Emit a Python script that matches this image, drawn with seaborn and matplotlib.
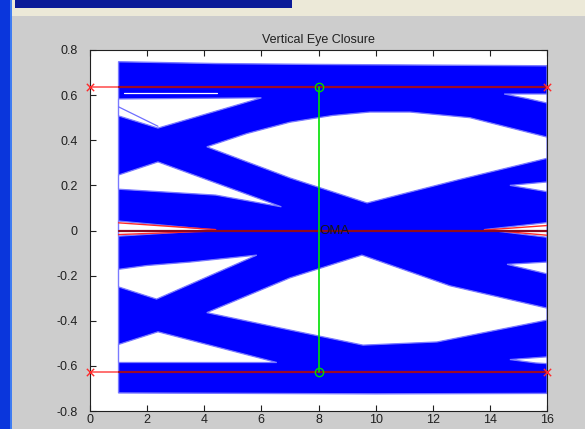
import matplotlib
matplotlib.use("Agg")
import numpy as np
import pandas as pd
import matplotlib.pyplot as plt
import seaborn as sns
from matplotlib.patches import Rectangle

# ---------------- data ----------------
x_ticks = [0, 2, 4, 6, 8, 10, 12, 14, 16]
y_ticks = [-0.8, -0.6, -0.4, -0.2, 0, 0.2, 0.4, 0.6, 0.8]
y_tick_labels = ["-0.8", "-0.6", "-0.4", "-0.2", "0", "0.2", "0.4", "0.6", "0.8"]
title = "Vertical Eye Closure"

# outer envelope of all eye traces (top edge left->right, bottom edge right->left)
env_x = [1, 4.4, 8, 16, 16, 10, 1]
env_y = [0.748, 0.740, 0.736, 0.730, -0.722, -0.724, -0.720]

# trace-free (white) regions inside the envelope
gapA_x = [1, 6.0, 2.38, 1]
gapA_y = [0.583, 0.588, 0.454, 0.508]

upper_eye_x = [4.09, 5.5, 7.0, 8.5, 9.8, 11.2, 13.3, 16, 16, 12.9, 9.7, 7.0]
upper_eye_y = [0.371, 0.43, 0.48, 0.51, 0.525, 0.525, 0.50, 0.414, 0.32, 0.225, 0.122, 0.233]

wedgeC_x = [1, 2.38, 6.7, 4.4, 1]
wedgeC_y = [0.246, 0.304, 0.105, 0.157, 0.183]

zero_left_x = [1, 4.4, 1]
zero_left_y = [0.042, 0.002, -0.025]

zero_right_x = [13.8, 16, 16]
zero_right_y = [0.004, 0.035, -0.030]

wedgeD_x = [1, 2.0, 3.5, 5.84, 2.33, 1]
wedgeD_y = [-0.172, -0.155, -0.140, -0.109, -0.304, -0.250]

lower_eye_x = [4.09, 7.0, 9.52, 12.6, 16, 16, 12.15, 9.56, 7.0]
lower_eye_y = [-0.364, -0.21, -0.109, -0.245, -0.344, -0.397, -0.494, -0.508, -0.441]

gapE_x = [1, 2.38, 6.54, 1]
gapE_y = [-0.505, -0.449, -0.585, -0.585]

sliver_top_x = [14.5, 16, 16, 15.3]
sliver_top_y = [0.605, 0.605, 0.565, 0.585]
sliver_c_x = [14.7, 16, 16]
sliver_c_y = [0.200, 0.215, 0.172]
sliver_d_x = [14.6, 16, 16]
sliver_d_y = [-0.150, -0.140, -0.192]
sliver_bot_x = [14.7, 16, 16, 15.6]
sliver_bot_y = [-0.572, -0.560, -0.590, -0.587]

holes = [
    (gapA_x, gapA_y), (upper_eye_x, upper_eye_y), (wedgeC_x, wedgeC_y),
    (zero_left_x, zero_left_y), (zero_right_x, zero_right_y),
    (wedgeD_x, wedgeD_y), (lower_eye_x, lower_eye_y), (gapE_x, gapE_y),
    (sliver_top_x, sliver_top_y), (sliver_c_x, sliver_c_y),
    (sliver_d_x, sliver_d_y), (sliver_bot_x, sliver_bot_y),
]

# a few individual red traces near zero
red_trace_x = [[1, 4.4], [1, 4.4], [13.8, 16], [14.5, 16]]
red_trace_y = [[0.034, 0.004], [-0.018, -0.002], [0.002, 0.022], [-0.004, -0.021]]

# measurement markers
trace_start = 1
oma_x = [0, 16]
oma_levels = [0.635, -0.625]
zero_level = 0
oma_pos = 8
oma_label = "OMA"

# ---------------- figure ----------------
sns.set_theme(style="ticks")
plt.rcParams["font.family"] = ["Liberation Sans", "DejaVu Sans"]

W, H = 585, 429
fig = plt.figure(figsize=(W / 100, H / 100), dpi=100, facecolor="#cdcdcd")

# window chrome around the MATLAB figure
fig.add_artist(Rectangle((12 / W, 1 - 16 / H), 1, 16 / H, transform=fig.transFigure,
                         facecolor="#ece9d8", edgecolor="none", zorder=0))
fig.add_artist(Rectangle((15 / W, 1 - 8 / H), 277 / W, 8 / H, transform=fig.transFigure,
                         facecolor="#0a1a98", edgecolor="none", zorder=1))
fig.add_artist(Rectangle((0, 0), 10 / W, 1, transform=fig.transFigure,
                         facecolor="#0a36dc", edgecolor="none", zorder=1))
fig.add_artist(Rectangle((10 / W, 0), 2 / W, 1, transform=fig.transFigure,
                         facecolor="#3f7cf2", edgecolor="none", zorder=1))

ax = fig.add_axes([90 / W, 1 - 411 / H, 457 / W, 361 / H])
ax.set_facecolor("white")

# trace envelope and trace-free regions
ax.fill(env_x, env_y, facecolor="#0000ff", edgecolor="#7a7aff", lw=1.0, zorder=1)
for hx, hy in holes:
    ax.fill(hx, hy, facecolor="white", edgecolor="#7a7aff", lw=0.9, zorder=2)

for rx, ry in zip(red_trace_x, red_trace_y):
    ax.plot(rx, ry, color="#ff2a2a", lw=1.0, zorder=3)

# thin light trace inside gap A, white streak in the top band
ax.plot([1, 2.38], [0.548, 0.462], color="#6f6fff", lw=0.9, zorder=3)
ax.plot([1.2, 4.45], [0.608, 0.608], color="white", lw=0.9, zorder=3)

# red measurement lines at the eye levels
rows = []
for i, lv in enumerate(oma_levels):
    for xv in oma_x:
        rows.append({"x": xv, "y": lv, "lvl": i})
oma_df = pd.DataFrame(rows)
sns.lineplot(data=oma_df, x="x", y="y", units="lvl", estimator=None, sort=False,
             color="#ff6464", lw=1.3, ax=ax, zorder=4, legend=False)
for lv in oma_levels:
    ax.plot([trace_start, oma_x[1]], [lv, lv], color="#9a0a28", lw=1.6, zorder=4)
ax.plot([trace_start, oma_x[1]], [zero_level, zero_level], color="#8e0a20", lw=1.6, zorder=4)

mk_df = pd.DataFrame({"x": [oma_x[0], oma_x[1], oma_x[0], oma_x[1]],
                      "y": [oma_levels[0], oma_levels[0], oma_levels[1], oma_levels[1]]})
sns.scatterplot(data=mk_df, x="x", y="y", marker="x", color="#ff2a2a", s=28,
                linewidth=1.0, ax=ax, zorder=6, clip_on=False, legend=False)

# green OMA line
g_df = pd.DataFrame({"x": [oma_pos, oma_pos], "y": [oma_levels[1], oma_levels[0]]})
sns.lineplot(data=g_df, x="x", y="y", estimator=None, sort=False, color="#00e000",
             lw=1.2, ax=ax, zorder=5, legend=False)
ax.plot([oma_pos, oma_pos], oma_levels, "o", mfc="none", mec="#00d800", ms=6,
        mew=1.0, zorder=6)
ax.text(oma_pos + 0.03, zero_level, oma_label, fontsize=9.5, color="#151515",
        ha="left", va="center", zorder=7)

ax.set_xlim(0, 16)
ax.set_ylim(-0.8, 0.8)
ax.set_xticks(x_ticks)
ax.set_xticklabels([str(v) for v in x_ticks])
ax.set_yticks(y_ticks)
ax.set_yticklabels(y_tick_labels)
ax.set_xlabel("")
ax.set_ylabel("")
ax.tick_params(axis="both", direction="in", length=4, width=0.8, top=True, right=True,
               labelsize=9, labelcolor="#202020", color="#202020")
ax.tick_params(axis="y", pad=9)
ax.tick_params(axis="x", pad=2.5)
for sp in ax.spines.values():
    sp.set_visible(True)
    sp.set_color("#202020")
    sp.set_linewidth(0.8)
ax.set_title(title, fontsize=9, color="#202020", pad=5)

fig.savefig("out.png", dpi=100, facecolor=fig.get_facecolor())
